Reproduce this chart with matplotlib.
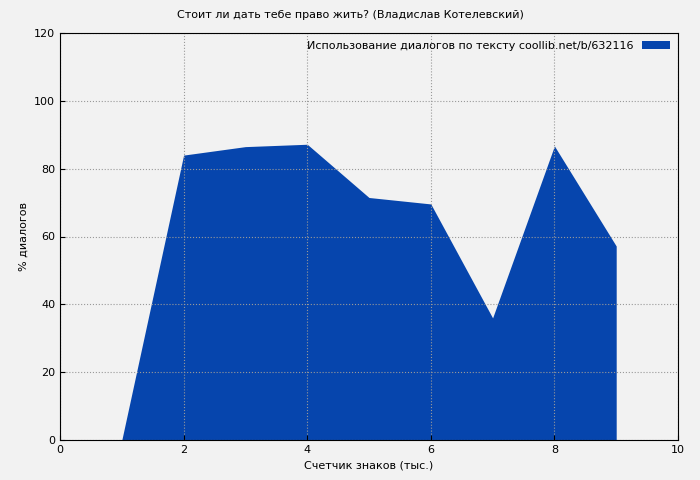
import matplotlib.pyplot as plt

x = [1, 2, 3, 4, 5, 6, 7, 8, 9]
dialogs = [0, 84, 86.5, 87.2, 71.5, 69.6, 36, 86.7, 57.2]

fig = plt.figure(figsize=(7, 4.8), dpi=100, facecolor='#f2f2f2')
ax = fig.add_axes([60/700, 40/480, 618/700, 407/480])
ax.set_facecolor('#f2f2f2')

ax.fill_between(x, dialogs, 0, color='#0645ad', lw=0,
                label='Использование диалогов по тексту coollib.net/b/632116')

ax.set_xlim(0, 10)
ax.set_ylim(0, 120)
ax.set_xticks(range(0, 11, 2))
ax.set_yticks(range(0, 121, 20))
ax.grid(True, color='#999999', linestyle=':', linewidth=0.8)
ax.tick_params(labelsize=8, direction='in')
ax.set_xlabel('Счетчик знаков (тыс.)', fontsize=8)
ax.set_ylabel('% диалогов', fontsize=8)
fig.suptitle('Стоит ли дать тебе право жить? (Владислав Котелевский)', fontsize=8, y=0.98)
ax.legend(loc='upper right', fontsize=8, frameon=False, handlelength=2.5,
          markerfirst=False, borderaxespad=0.3)

fig.savefig('out.png', facecolor=fig.get_facecolor())
